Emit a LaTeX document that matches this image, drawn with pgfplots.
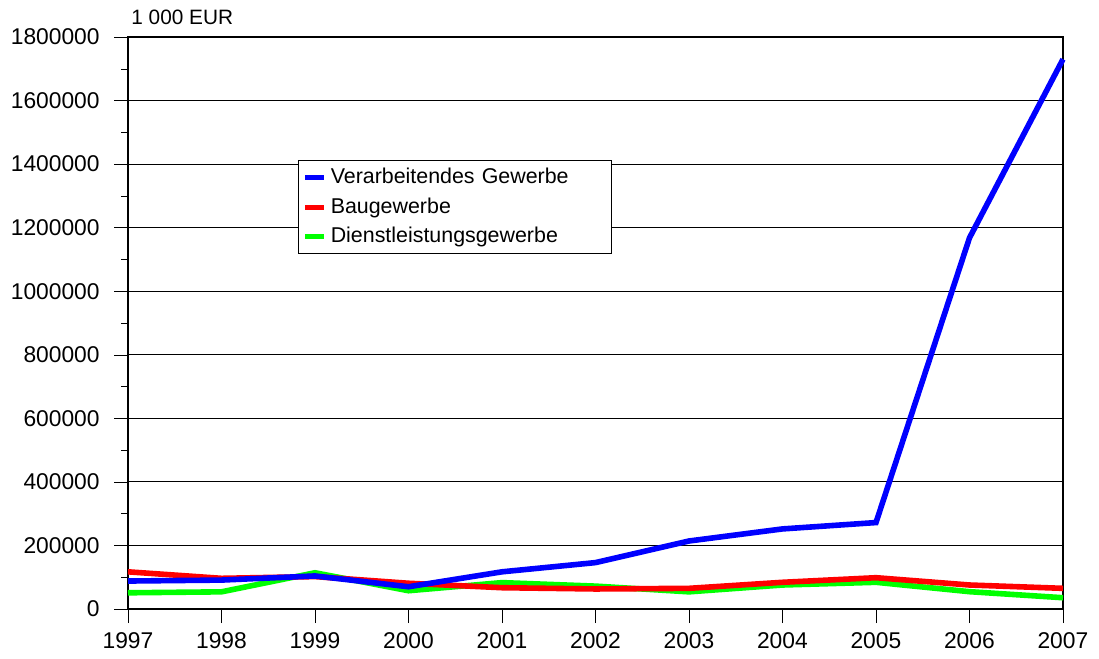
\documentclass[border=0pt]{standalone}
\usepackage{fontspec}
\setmainfont{Liberation Sans}
\usepackage{pgfplots}
\pgfplotsset{compat=1.18}
\begin{document}
\begin{tikzpicture}
\useasboundingbox (-64pt,-25pt) rectangle (485.5pt,304.5pt);
\begin{axis}[
  at={(0,0)}, anchor=south west,
  scale only axis, width=467.5pt, height=286pt,
  xmin=1997, xmax=2007, ymin=0, ymax=1800000,
  xtick={1997,...,2007},
  xticklabel style={/pgf/number format/1000 sep={}, yshift=-1.2pt},
  ytick={0,200000,...,1800000},
  minor y tick num=1,
  scaled y ticks=false,
  yticklabel style={/pgf/number format/fixed, /pgf/number format/1000 sep={}, xshift=-3.7pt},
  /pgf/number format/assume math mode=true,
  tick label style={font=\fontsize{11.4}{13}\selectfont},
  tick align=outside,
  xtick style={black},
  ytick style={black},
  major tick length=7pt, minor tick length=3.5pt,
  xtick pos=bottom, ytick pos=left,
  ymajorgrids, grid style={black, line width=0.5pt},
  axis line style={black, line width=0.6pt},
  legend style={at={(0.1821,0.785)}, anchor=north west, draw=black, line width=0.5pt,
    font=\fontsize{10.7}{12.5}\selectfont, row sep=1.5pt, inner sep=2pt,
    legend cell align=left, nodes={text width=136.5pt}},
  legend image code/.code={\draw[#1, line width=2.5pt] (0pt,0pt) -- (9.5pt,0pt);},
  reverse legend,
  clip=false,
]
\addplot[color={rgb,255:red,0;green,255;blue,0}, line width=2.8pt] coordinates {
(1997,51000) (1998,54000) (1999,114000) (2000,57500) (2001,83000) (2002,72000)
(2003,54000) (2004,75500) (2005,84000) (2006,54500) (2007,35500)};
\addlegendentry{Dienstleistungsgewerbe}
\addplot[color={rgb,255:red,255;green,0;blue,0}, line width=2.8pt] coordinates {
(1997,117000) (1998,96500) (1999,102000) (2000,81000) (2001,67000) (2002,63000)
(2003,65000) (2004,84000) (2005,98500) (2006,75500) (2007,65000)};
\addlegendentry{Baugewerbe}
\addplot[color={rgb,255:red,0;green,0;blue,255}, line width=2.8pt] coordinates {
(1997,88000) (1998,91000) (1999,104000) (2000,70000) (2001,117000) (2002,146000)
(2003,214000) (2004,252000) (2005,272000) (2006,1168000) (2007,1730000)};
\addlegendentry{Verarbeitendes Gewerbe}
\node[anchor=base west, font=\fontsize{10.4}{12}\selectfont, inner sep=0pt] at (rel axis cs:0,1) [xshift=1.5pt, yshift=6pt] {1 000 EUR};
\end{axis}
\end{tikzpicture}
\end{document}
